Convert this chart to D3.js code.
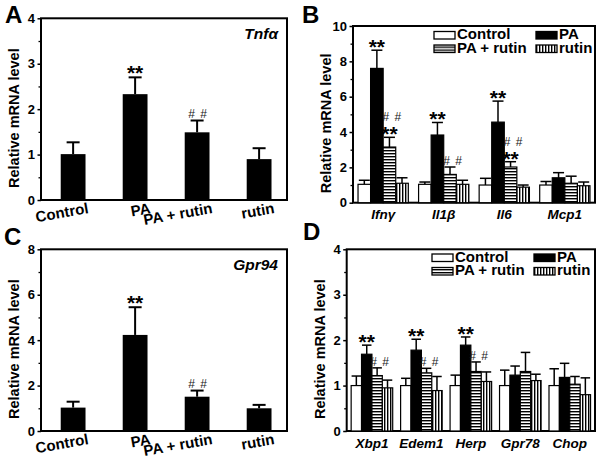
<!DOCTYPE html>
<html>
<head>
<meta charset="utf-8">
<script src="https://cdn.jsdelivr.net/npm/d3@7"></script>
<style>
body { margin: 0; background: #fff; }
text { font-family: "Liberation Sans", Arial, sans-serif; }
</style>
</head>
<body>
<svg id="chart" width="601" height="467"></svg>
<script>
// ---- data ----
var treatments = ["Control", "PA", "PA + rutin", "rutin"];

// panel A: Tnfa
var tnfaMean = [1.01, 2.33, 1.49, 0.90];
var tnfaSd   = [0.26, 0.37, 0.26, 0.24];
var tnfaSig  = ["", "**", "##", ""];

// panel C: Gpr94
var gpr94Mean = [1.03, 4.23, 1.51, 1.00];
var gpr94Sd   = [0.26, 1.22, 0.27, 0.15];
var gpr94Sig  = ["", "**", "##", ""];

// panel B: inflammatory genes, values per gene in treatment order
var genesB = ["Ifnγ", "Il1β", "Il6", "Mcp1"];
var meanB = [[1.04, 7.60, 3.15, 1.10], [1.04, 3.83, 1.60, 1.04], [1.00, 4.56, 2.02, 0.88], [1.00, 1.41, 1.10, 0.96]];
var sdB   = [[0.23, 1.03, 0.55, 0.31], [0.13, 0.71, 0.42, 0.23], [0.38, 1.19, 0.30, 0.12], [0.20, 0.29, 0.40, 0.21]];
var starB = [[0, 1, 1, 0], [0, 1, 0, 0], [0, 1, 1, 0], [0, 0, 0, 0]];
var hashB = [[0, 0, 1, 0], [0, 0, 1, 0], [0, 0, 1, 0], [0, 0, 0, 0]];

// panel D: ER stress genes
var genesD = ["Xbp1", "Edem1", "Herp", "Gpr78", "Chop"];
var meanD = [[1.00, 1.69, 1.22, 0.95], [1.00, 1.78, 1.28, 0.89], [1.00, 1.89, 1.31, 1.09], [1.00, 1.23, 1.31, 1.11], [1.00, 1.18, 1.03, 0.80]];
var sdD   = [[0.21, 0.20, 0.17, 0.17], [0.16, 0.24, 0.10, 0.31], [0.23, 0.18, 0.21, 0.21], [0.34, 0.20, 0.42, 0.14], [0.37, 0.31, 0.17, 0.37]];
var starD = [[0, 1, 0, 0], [0, 1, 0, 0], [0, 1, 0, 0], [0, 0, 0, 0], [0, 0, 0, 0]];
var hashD = [[0, 0, 1, 0], [0, 0, 1, 0], [0, 0, 1, 0], [0, 0, 0, 0], [0, 0, 0, 0]];

var fills = ["#fff", "#000", "url(#hstripe)", "url(#vstripe)"];

var svg = d3.select('#chart');

// stripe patterns
var defs = svg.append('defs');
var hp = defs.append('pattern').attr('id', 'hstripe').attr('patternUnits', 'userSpaceOnUse')
  .attr('width', 4).attr('height', 3);
hp.append('rect').attr('width', 4).attr('height', 3).attr('fill', '#fff');
hp.append('rect').attr('width', 4).attr('height', 1.4).attr('fill', '#000');
var vp = defs.append('pattern').attr('id', 'vstripe').attr('patternUnits', 'userSpaceOnUse')
  .attr('width', 3).attr('height', 4);
vp.append('rect').attr('width', 3).attr('height', 4).attr('fill', '#fff');
vp.append('rect').attr('width', 1.4).attr('height', 4).attr('fill', '#000');

function drawFrame(p){
  var y = d3.scaleLinear().domain([0, p.max]).range([p.y1, p.y0]);
  var g = svg.append('g');

  // minor ticks
  var minor = d3.range(p.minor, p.max, p.step);
  g.append('g').attr('transform', 'translate(' + p.x0 + ',0)')
   .call(d3.axisLeft(y).tickValues(minor).tickSize(2.5).tickFormat(''))
   .call(function(a){ a.select('.domain').remove(); })
   .selectAll('line').attr('stroke-width', 1.3);

  // major ticks
  var ax = g.append('g').attr('transform', 'translate(' + p.x0 + ',0)')
   .call(d3.axisLeft(y).tickValues(d3.range(0, p.max + 0.001, p.step))
           .tickFormat(d3.format('d')).tickSize(3.5).tickPadding(2.5));
  ax.select('.domain').remove();
  ax.selectAll('line').attr('stroke-width', 1.5);
  ax.selectAll('text').style('font-size', '13px').style('font-weight', 'bold').attr('fill', '#000');

  g.append('rect')
   .attr('x', p.x0).attr('y', p.y0)
   .attr('width', p.x1 - p.x0).attr('height', p.y1 - p.y0)
   .attr('fill', 'none').attr('stroke', '#000').attr('stroke-width', 2);

  g.append('text')
   .attr('transform', 'translate(' + (p.x0 - 22) + ',' + ((p.y0 + p.y1) / 2 + 9) + ') rotate(-90)')
   .attr('text-anchor', 'middle')
   .style('font-size', '14.5px').style('font-weight', 'bold')
   .text('Relative mRNA level');

  svg.append('text')
   .attr('x', p.lx).attr('y', p.ly)
   .style('font-size', '24px').style('font-weight', 'bold')
   .text(p.letter);
  return y;
}

function addStars(x, capY){
  svg.append('text')
   .attr('x', x).attr('y', capY + 6)
   .attr('text-anchor', 'middle')
   .style('font-size', '21px').style('font-weight', 'bold')
   .text('**');
}
function addHash(x, baseY){
  svg.append('text')
   .attr('x', x + 1).attr('y', baseY)
   .attr('text-anchor', 'middle')
   .style('font-size', '12px').style('letter-spacing', '1px').attr('fill', '#1a1a1a')
   .text('# #');
}

function errBar(x, top, cap, w, sw){
  svg.append('line').attr('x1', x).attr('x2', x).attr('y1', top).attr('y2', cap)
   .attr('stroke', '#000').attr('stroke-width', sw);
  svg.append('line').attr('x1', x - w / 2).attr('x2', x + w / 2).attr('y1', cap).attr('y2', cap)
   .attr('stroke', '#000').attr('stroke-width', sw);
}

function drawSimple(p, means, sds, sigs, gene){
  var y = drawFrame(p);
  var x = d3.scaleBand().domain(treatments).range([p.x0, p.x1])
            .paddingInner(0.6).paddingOuter(0.284).align(0.56);
  var bw = x.bandwidth();

  treatments.forEach(function(t, i){
    var cx = x(t) + bw / 2;
    errBar(cx, y(means[i]), y(means[i] + sds[i]), 13, 2);
    svg.append('rect')
     .attr('x', x(t)).attr('y', y(means[i]))
     .attr('width', bw).attr('height', y(0) - y(means[i]))
     .attr('fill', '#000');
    var capY = y(means[i] + sds[i]);
    if(sigs[i] == '**') addStars(cx, capY - 3);
    if(sigs[i] == '##') addHash(cx, capY - 3);
  });

  // x labels, tilted
  var xa = svg.append('g').attr('transform', 'translate(0,' + p.y1 + ')')
    .call(d3.axisBottom(x).tickSize(0));
  xa.select('.domain').remove();
  xa.selectAll('text')
    .attr('x', 0).attr('y', 0).attr('dy', null)
    .attr('text-anchor', 'end')
    .attr('transform', 'translate(16,13) rotate(-10)')
    .attr('fill', '#000')
    .style('font-size', '15px').style('font-weight', 'bold');

  svg.append('text')
   .attr('x', p.x1 - 9).attr('y', p.y0 + 21)
   .attr('text-anchor', 'end')
   .style('font-size', '15.5px').style('font-weight', 'bold').style('font-style', 'italic')
   .text(gene);
}

function drawGrouped(p, genes, means, sds, stars, hashes, capW){
  var y = drawFrame(p);
  var x0 = d3.scaleBand().domain(genes).range([p.x0, p.x1])
             .paddingInner(p.pin).paddingOuter(p.pout);
  var x1 = d3.scaleBand().domain(treatments).range([0, x0.bandwidth()]);
  var bw = x1.bandwidth();

  genes.forEach(function(gname, gi){
    treatments.forEach(function(t, i){
      var bx = x0(gname) + x1(t);
      var cx = bx + bw / 2;
      var capY = y(means[gi][i] + sds[gi][i]);
      errBar(cx, y(means[gi][i]), capY, capW, 1.5);
      svg.append('rect')
       .attr('x', bx).attr('y', y(means[gi][i]))
       .attr('width', bw).attr('height', y(0) - y(means[gi][i]))
       .attr('fill', fills[i]).attr('stroke', '#000').attr('stroke-width', 1.2);
      var top = capY - 2;
      if(stars[gi][i]){
        addStars(cx, top);
        top -= 14;
      }
      if(hashes[gi][i]) addHash(cx + 2, top);
    });
  });

  var xa = svg.append('g').attr('transform', 'translate(0,' + p.y1 + ')')
    .call(d3.axisBottom(x0).tickSize(0).tickPadding(5));
  xa.select('.domain').remove();
  xa.selectAll('text')
    .attr('dy', null).attr('y', 16.5)
    .attr('fill', '#000')
    .style('font-size', '13.5px').style('font-weight', 'bold').style('font-style', 'italic');

  // legend
  var lg = svg.append('g').attr('transform', 'translate(' + p.legX + ',' + p.legY + ')');
  treatments.forEach(function(t, i){
    var col = i % 2, row = Math.floor(i / 2);
    var gx = col * 102, gy = row * 13.5;
    lg.append('rect').attr('x', gx).attr('y', gy).attr('width', 21).attr('height', 7.5)
      .attr('fill', fills[i]).attr('stroke', '#000').attr('stroke-width', 1.3);
    lg.append('text').attr('x', gx + 23).attr('y', gy + 7.5)
      .style('font-size', '15px').style('font-weight', 'bold')
      .text(t);
  });
}

drawSimple({x0: 41, x1: 287, y0: 18.3, y1: 200, max: 4, step: 1, minor: 0.5, letter: 'A', lx: 5, ly: 23},
           tnfaMean, tnfaSd, tnfaSig, 'Tnfα');
drawSimple({x0: 41, x1: 287, y0: 249.3, y1: 431, max: 8, step: 2, minor: 1, letter: 'C', lx: 4, ly: 245},
           gpr94Mean, gpr94Sd, gpr94Sig, 'Gpr94');
drawGrouped({x0: 353, x1: 595, y0: 26, y1: 202.7, max: 10, step: 2, minor: 1, letter: 'B', lx: 302, ly: 23,
             pin: 0.17, pout: 0.083, legX: 434, legY: 31.5},
            genesB, meanB, sdB, starB, hashB, 11);
drawGrouped({x0: 346.7, x1: 595, y0: 249.3, y1: 431, max: 4, step: 1, minor: 0.5, letter: 'D', lx: 303, ly: 240,
             pin: 0.16, pout: 0.09, legX: 432, legY: 254},
            genesD, meanD, sdD, starD, hashD, 9.5);
</script>
</body>
</html>
